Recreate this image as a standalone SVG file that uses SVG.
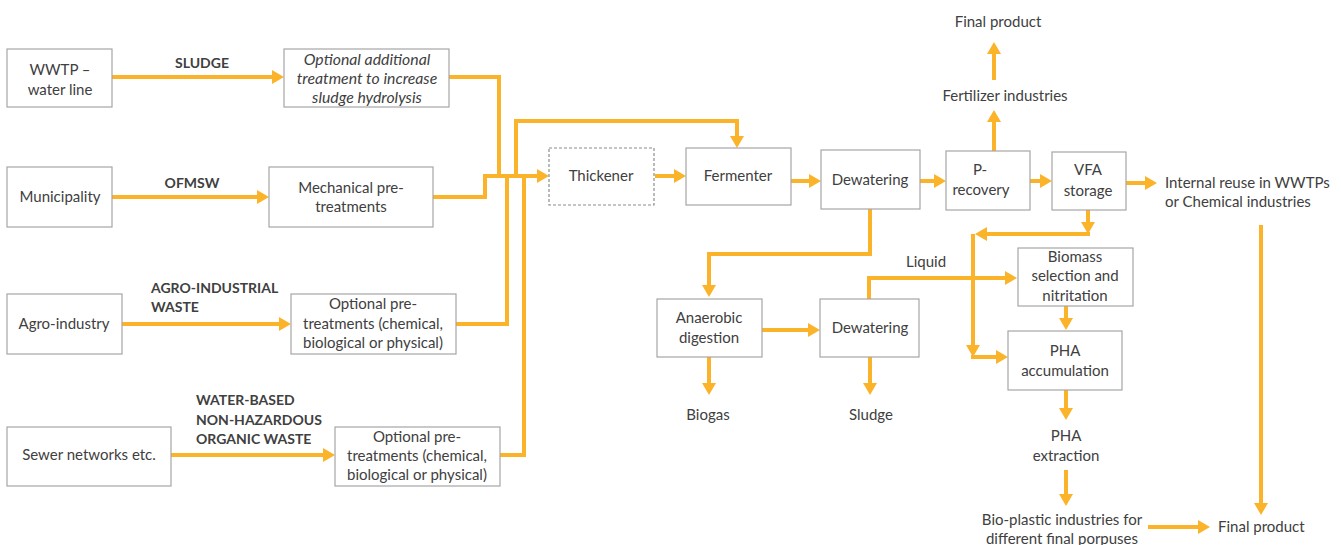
<svg xmlns="http://www.w3.org/2000/svg" width="1341" height="545" viewBox="0 0 1341 545">
  <style>
    .box { fill: #ffffff; stroke: #a6a6a6; stroke-width: 1.2; }
    .dash { stroke-dasharray: 3 2; stroke: #8c8c8c; }
    text { font-family: Lato, "Open Sans", sans-serif; font-size: 15px; fill: #404040; }
    .c { text-anchor: middle; }
    .b { font-weight: bold; font-size: 14px; }
    .i { font-style: italic; font-size: 15.8px; }
    .flow { fill: none; stroke: #fbb42a; stroke-width: 4; stroke-linejoin: miter; }
    .arr { marker-end: url(#head); }
  </style>
  <defs>
    <marker id="head" markerUnits="userSpaceOnUse" markerWidth="12" markerHeight="14" refX="0" refY="7" orient="auto">
      <path d="M0,0 L12,7 L0,14 z" fill="#fbb42a"/>
    </marker>
  </defs>

  <!-- flow lines -->
  <g id="connectors">
    <line class="flow arr" x1="112" y1="77" x2="272" y2="77"/>
    <line class="flow arr" x1="112" y1="197" x2="257" y2="197"/>
    <line class="flow arr" x1="122" y1="324" x2="279" y2="324"/>
    <line class="flow arr" x1="171" y1="455" x2="323" y2="455"/>
    <polyline class="flow" points="449,77 499,77 499,176"/>
    <polyline class="flow arr" points="433,197 485,197 485,176 537,176"/>
    <polyline class="flow" points="456,324 507,324 507,176"/>
    <polyline class="flow" points="500,455 524,455 524,176"/>
    <polyline class="flow arr" points="516,176 516,121 737,121 737,136"/>
    <line class="flow arr" x1="655" y1="176" x2="674" y2="176"/>
    <line class="flow arr" x1="791" y1="181" x2="809" y2="181"/>
    <line class="flow arr" x1="920" y1="181" x2="934" y2="181"/>
    <line class="flow arr" x1="1030" y1="181" x2="1040" y2="181"/>
    <line class="flow arr" x1="1126" y1="183" x2="1145" y2="183"/>
    <line class="flow arr" x1="994" y1="151" x2="994" y2="122"/>
    <line class="flow arr" x1="994" y1="80" x2="994" y2="54"/>
    <polyline class="flow arr" points="870,209 870,254 709,254 709,285"/>
    <line class="flow arr" x1="762" y1="330" x2="808" y2="330"/>
    <line class="flow arr" x1="709" y1="357" x2="709" y2="383"/>
    <line class="flow arr" x1="870" y1="357" x2="870" y2="383"/>
    <polyline class="flow arr" points="869,299 869,278 1005,278"/>
    <line class="flow arr" x1="1088" y1="210" x2="1088" y2="222"/>
    <line class="flow arr" x1="1090" y1="234" x2="987" y2="234"/>
    <line class="flow arr" x1="973" y1="234" x2="973" y2="345"/>
    <line class="flow arr" x1="971" y1="357" x2="996" y2="357"/>
    <line class="flow arr" x1="1066" y1="306" x2="1066" y2="318"/>
    <line class="flow arr" x1="1066" y1="390" x2="1066" y2="408"/>
    <line class="flow arr" x1="1066" y1="470" x2="1066" y2="494"/>
    <line class="flow arr" x1="1148" y1="527" x2="1198" y2="527"/>
    <line class="flow arr" x1="1261" y1="225" x2="1261" y2="503"/>
  </g>

  <!-- stream labels -->
  <g id="labels">
    <text class="b c" x="202" y="68">SLUDGE</text>
    <text class="b c" x="192" y="188">OFMSW</text>
    <text class="b" x="151" y="293">AGRO-INDUSTRIAL</text>
    <text class="b" x="151" y="312">WASTE</text>
    <text class="b" x="196" y="405">WATER-BASED</text>
    <text class="b" x="196" y="425">NON-HAZARDOUS</text>
    <text class="b" x="196" y="444">ORGANIC WASTE</text>
    <text x="906" y="267">Liquid</text>
  </g>

  <g id="wwtp">
    <rect class="box" x="7" y="49" width="105" height="58"/>
    <text class="c" x="60" y="75">WWTP –</text>
    <text class="c" x="60" y="95">water line</text>
  </g>
  <g id="hydrolysis">
    <rect class="box" x="284" y="49" width="165" height="58"/>
    <text class="c i" x="367" y="65">Optional additional</text>
    <text class="c i" x="367" y="84">treatment to increase</text>
    <text class="c i" x="367" y="103">sludge hydrolysis</text>
  </g>
  <g id="municipality">
    <rect class="box" x="7" y="167" width="105" height="60"/>
    <text class="c" x="60" y="202">Municipality</text>
  </g>
  <g id="mechanical">
    <rect class="box" x="269" y="167" width="164" height="60"/>
    <text class="c" x="351" y="193">Mechanical pre-</text>
    <text class="c" x="351" y="212">treatments</text>
  </g>
  <g id="agro">
    <rect class="box" x="7" y="294" width="115" height="60"/>
    <text class="c" x="64" y="329">Agro-industry</text>
  </g>
  <g id="agro-pre">
    <rect class="box" x="291" y="294" width="165" height="60"/>
    <text class="c" x="373" y="309">Optional pre-</text>
    <text class="c" x="373" y="329">treatments (chemical,</text>
    <text class="c" x="373" y="348">biological or physical)</text>
  </g>
  <g id="sewer">
    <rect class="box" x="7" y="427" width="164" height="59"/>
    <text class="c" x="89" y="460">Sewer networks etc.</text>
  </g>
  <g id="sewer-pre">
    <rect class="box" x="335" y="427" width="165" height="59"/>
    <text class="c" x="417" y="442">Optional pre-</text>
    <text class="c" x="417" y="461">treatments (chemical,</text>
    <text class="c" x="417" y="480">biological or physical)</text>
  </g>
  <g id="thickener">
    <rect class="box dash" x="549" y="148" width="105" height="57"/>
    <text class="c" x="601" y="181">Thickener</text>
  </g>
  <g id="fermenter">
    <rect class="box" x="686" y="148" width="105" height="57"/>
    <text class="c" x="738" y="181">Fermenter</text>
  </g>
  <g id="dewatering1">
    <rect class="box" x="821" y="150" width="99" height="59"/>
    <text class="c" x="870" y="185">Dewatering</text>
  </g>
  <g id="p-recovery">
    <rect class="box" x="946" y="151" width="84" height="59"/>
    <text class="c" x="980" y="175">P-</text>
    <text class="c" x="981" y="195">recovery</text>
  </g>
  <g id="vfa">
    <rect class="box" x="1052" y="152" width="74" height="58"/>
    <text class="c" x="1088" y="175">VFA</text>
    <text class="c" x="1088" y="196">storage</text>
  </g>
  <g id="internal-reuse">
    <text x="1165" y="188">Internal reuse in WWTPs</text>
    <text x="1165" y="207">or Chemical industries</text>
  </g>
  <g id="fertilizer">
    <text class="c" x="1005" y="101">Fertilizer industries</text>
  </g>
  <g id="final-top">
    <text class="c" x="998" y="27">Final product</text>
  </g>
  <g id="anaerobic">
    <rect class="box" x="657" y="299" width="105" height="58"/>
    <text class="c" x="709" y="323">Anaerobic</text>
    <text class="c" x="709" y="343">digestion</text>
  </g>
  <g id="dewatering2">
    <rect class="box" x="820" y="299" width="99" height="58"/>
    <text class="c" x="870" y="333">Dewatering</text>
  </g>
  <g id="biogas">
    <text class="c" x="708" y="420">Biogas</text>
  </g>
  <g id="sludge">
    <text class="c" x="871" y="420">Sludge</text>
  </g>
  <g id="biomass">
    <rect class="box" x="1018" y="248" width="115" height="58"/>
    <text class="c" x="1075" y="262">Biomass</text>
    <text class="c" x="1075" y="281">selection and</text>
    <text class="c" x="1075" y="301">nitritation</text>
  </g>
  <g id="pha-accumulation">
    <rect class="box" x="1008" y="331" width="114" height="59"/>
    <text class="c" x="1065" y="356">PHA</text>
    <text class="c" x="1065" y="376">accumulation</text>
  </g>
  <g id="pha-extraction">
    <text class="c" x="1066" y="441">PHA</text>
    <text class="c" x="1066" y="461">extraction</text>
  </g>
  <g id="bioplastic">
    <text class="c" x="1062" y="525">Bio-plastic industries for</text>
    <text class="c" x="1062" y="544">different final porpuses</text>
  </g>
  <g id="final-bottom">
    <text x="1218" y="532">Final product</text>
  </g>
</svg>
